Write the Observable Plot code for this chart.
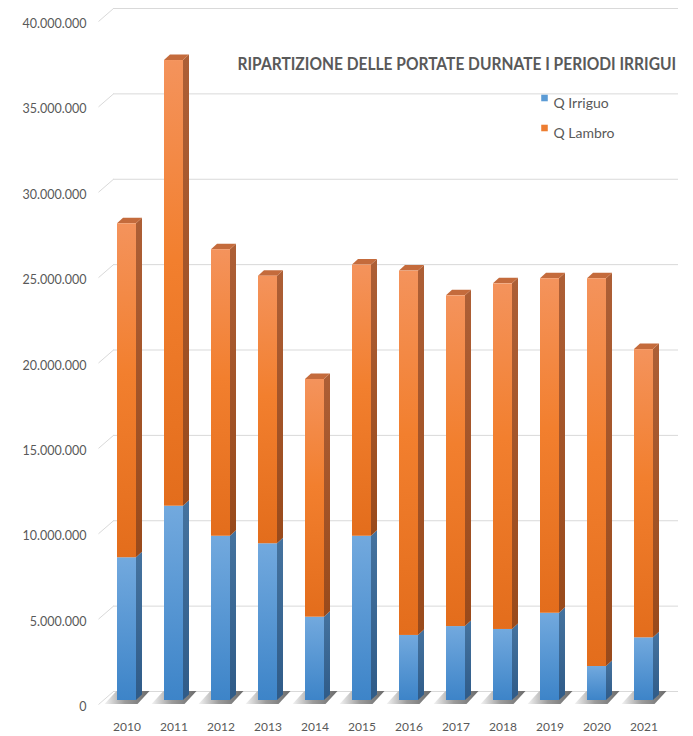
<!DOCTYPE html>
<html>
<head>
<meta charset="utf-8">
<script src="https://cdn.jsdelivr.net/npm/d3@7"></script>
<script src="https://cdn.jsdelivr.net/npm/@observablehq/plot@0.6"></script>
<style>
  html, body { margin: 0; padding: 0; background: #ffffff; }
  #chart { width: 693px; height: 736px; }
</style>
</head>
<body>
<div id="chart"></div>
<script>
// ---- Data ----
const years = [2010, 2011, 2012, 2013, 2014, 2015, 2016, 2017, 2018, 2019, 2020, 2021];
const qIrriguo = [8360000, 11380000, 9620000, 9180000, 4880000, 9620000, 3810000, 4330000, 4160000, 5110000, 1990000, 3670000];
const qLambro = [19560000, 26100000, 16780000, 15670000, 13920000, 15880000, 21340000, 19370000, 20240000, 19590000, 22710000, 16880000];
const yTicks = [0, 5000000, 10000000, 15000000, 20000000, 25000000, 30000000, 35000000, 40000000];
const seriesNames = ["Q Irriguo", "Q Lambro"];
const chartTitle = "RIPARTIZIONE DELLE PORTATE DURNATE I PERIODI IRRIGUI";

// ---- Geometry helpers (pixel sizes converted into scale units) ----
const X_FIRST = 126.5, X_STEP = 47;        // x range mapping
const Y_ZERO = 700, Y_TOPPX = 17;           // y range mapping
const pxX = 1 / X_STEP;
const pxY = 40000000 / (Y_ZERO - Y_TOPPX);
const HW = 9.5 * pxX;        // half width of the front face
const DX = 6 * pxX;          // depth, horizontal
const DY = 5.5 * pxY;        // depth, vertical
const FRONT = -4 * pxY;      // floor front edge
const BACK = 9 * pxY;        // back wall
const xWallFrontLeft = years[0] + (98 - X_FIRST) * pxX;
const xWallBackLeft = years[0] + (113 - X_FIRST) * pxX;
const xWallBackRight = years[0] + (678 - X_FIRST) * pxX;

const bars = years.map((year, i) => ({
  year, irr: qIrriguo[i], lam: qLambro[i], tot: qIrriguo[i] + qLambro[i]
}));

const sideBlue = bars.flatMap(d => [
  {key: d.year, x: d.year + HW, y1: 0, y2: d.irr},
  {key: d.year, x: d.year + HW + DX, y1: DY, y2: d.irr + DY}
]);
const sideOrange = bars.flatMap(d => [
  {key: d.year, x: d.year + HW, y1: d.irr, y2: d.tot},
  {key: d.year, x: d.year + HW + DX, y1: d.irr + DY, y2: d.tot + DY}
]);
const topFace = bars.flatMap(d => [
  {key: d.year, x: d.year - HW, y1: d.tot, y2: d.tot},
  {key: d.year, x: d.year - HW + DX, y1: d.tot, y2: d.tot + DY},
  {key: d.year, x: d.year + HW, y1: d.tot, y2: d.tot + DY},
  {key: d.year, x: d.year + HW + DX, y1: d.tot + DY, y2: d.tot + DY}
]);
const shadows = years.flatMap(y => [
  {key: y, x: y - 22 * pxX, y1: FRONT, y2: FRONT},
  {key: y, x: y - 10 * pxX, y1: FRONT, y2: BACK},
  {key: y, x: y + 11 * pxX, y1: FRONT, y2: BACK},
  {key: y, x: y + 23 * pxX, y1: BACK, y2: BACK}
]);

const fmt = v => String(v).replace(/\B(?=(\d{3})+(?!\d))/g, ".");
const TXT = "#595959";

const svg = Plot.plot({
  width: 693,
  height: 736,
  marginTop: 0, marginRight: 0, marginBottom: 0, marginLeft: 0,
  style: {fontFamily: "Lato, 'Open Sans', sans-serif", background: "#ffffff"},
  x: {type: "linear", domain: [2010, 2021], range: [X_FIRST, X_FIRST + 11 * X_STEP], axis: null},
  y: {domain: [0, 40000000], range: [Y_ZERO, Y_TOPPX], axis: null},
  marks: [
    // back-wall gridlines and their side-wall diagonals
    Plot.ruleY(yTicks, {y: d => d + BACK, x1: xWallBackLeft, x2: xWallBackRight, stroke: "#d9d9d9", strokeWidth: 1}),
    Plot.link(yTicks, {x1: xWallFrontLeft, x2: xWallBackLeft, y1: d => d + FRONT, y2: d => d + BACK, stroke: "#d9d9d9", strokeWidth: 1}),
    // floor shadows
    Plot.areaY(shadows, {x: "x", y1: "y1", y2: "y2", z: "key", fill: "url(#gShadow)", curve: "linear"}),
    // side faces
    Plot.areaY(sideBlue, {x: "x", y1: "y1", y2: "y2", z: "key", fill: "url(#gBlueSide)", curve: "linear"}),
    Plot.areaY(sideOrange, {x: "x", y1: "y1", y2: "y2", z: "key", fill: "url(#gOrangeSide)", curve: "linear"}),
    // top faces
    Plot.areaY(topFace, {x: "x", y1: "y1", y2: "y2", z: "key", fill: "#c46b3c", curve: "linear"}),
    // front faces
    Plot.rect(bars, {x1: d => d.year - HW, x2: d => d.year + HW, y1: 0, y2: d => d.irr, fill: "url(#gBlueFront)"}),
    Plot.rect(bars, {x1: d => d.year - HW, x2: d => d.year + HW, y1: d => d.irr, y2: d => d.tot, fill: "url(#gOrangeFront)"}),
    // y tick labels
    Plot.text(yTicks, {y: d => d, text: d => fmt(d), frameAnchor: "left", dx: 86, dy: 6.5, textAnchor: "end", fontSize: 12.5, fill: TXT}),
    // x tick labels
    Plot.text(years, {x: d => d, y: 0, text: d => String(d), dy: 27, fontSize: 12, fill: TXT}),
    // title
    Plot.text([chartTitle], {frameAnchor: "top-left", dx: 237, dy: 57.5, textAnchor: "start", fontSize: 17, fontWeight: "bold", fill: TXT}),
    // legend
    Plot.dot([seriesNames[0]], {frameAnchor: "top-left", dx: 544, dy: 97.5, symbol: "square", r: 3.7, fill: "#5b9bd5", stroke: null}),
    Plot.dot([seriesNames[1]], {frameAnchor: "top-left", dx: 544, dy: 127.5, symbol: "square", r: 3.7, fill: "#ed7d31", stroke: null}),
    Plot.text([seriesNames[0]], {frameAnchor: "top-left", dx: 553, dy: 98, textAnchor: "start", fontSize: 14, fill: TXT}),
    Plot.text([seriesNames[1]], {frameAnchor: "top-left", dx: 553, dy: 128, textAnchor: "start", fontSize: 14, fill: TXT})
  ]
});

// gradient definitions
const NS = "http://www.w3.org/2000/svg";
const defs = document.createElementNS(NS, "defs");
function grad(id, horizontal, stops) {
  const g = document.createElementNS(NS, "linearGradient");
  g.setAttribute("id", id);
  g.setAttribute("x1", "0"); g.setAttribute("y1", "0");
  g.setAttribute("x2", horizontal ? "1" : "0"); g.setAttribute("y2", horizontal ? "0" : "1");
  for (const [o, c] of stops) {
    const s = document.createElementNS(NS, "stop");
    s.setAttribute("offset", o); s.setAttribute("stop-color", c);
    g.appendChild(s);
  }
  defs.appendChild(g);
}
grad("gBlueFront", false, [[0, "#72a9de"], [1, "#3d84c8"]]);
grad("gOrangeFront", false, [[0, "#f4935c"], [0.45, "#f27f2e"], [1, "#e36d1c"]]);
grad("gBlueSide", false, [[0, "#45739f"], [1, "#2f5b88"]]);
grad("gOrangeSide", false, [[0, "#ad5f36"], [1, "#994a1b"]]);
grad("gShadow", true, [[0, "#f4f4f4"], [0.45, "#9c9c9c"], [1, "#6c6c6c"]]);
svg.insertBefore(defs, svg.firstChild);

document.getElementById("chart").appendChild(svg);

// condense the title horizontally to its width in the reference (439px)
for (const t of svg.querySelectorAll("text")) {
  if (t.textContent === chartTitle) {
    const w = t.getComputedTextLength();
    const bb = t.getBBox();
    const f = 439 / w;
    const prev = t.getAttribute("transform") || "";
    t.setAttribute("transform", `${prev} translate(${bb.x},0) scale(${f},1) translate(${-bb.x},0)`.trim());
  }
}
</script>
</body>
</html>
